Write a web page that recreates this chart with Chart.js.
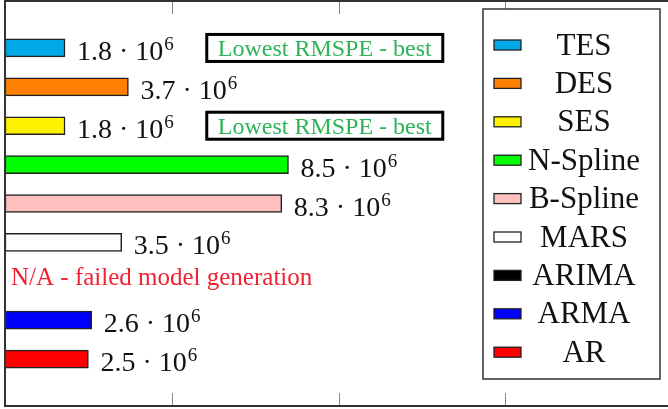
<!DOCTYPE html>
<html>
<head>
<meta charset="utf-8">
<script src="https://cdn.jsdelivr.net/npm/chart.js@4.4.1/dist/chart.umd.min.js"></script>
<style>
  html, body { margin: 0; padding: 0; background: #fff; overflow: hidden; width: 668px; height: 409px; }
  #wrap { position: relative; width: 680px; height: 409px; }
</style>
</head>
<body>
<div id="wrap"><canvas id="c" width="680" height="409"></canvas></div>
<script>
// Forecast models and their RMSPE (null = model could not be generated)
const models = ['TES', 'DES', 'SES', 'N-Spline', 'B-Spline', 'MARS', 'ARIMA', 'ARMA', 'AR'];
const rmspe = [1.8e6, 3.7e6, 1.8e6, 8.5e6, 8.3e6, 3.5e6, null, 2.6e6, 2.5e6];
const barColors = ['#00a8e8', '#ff8000', '#fff200', '#00ff00', '#ffc0c0', '#ffffff', '#000000', '#0000ff', '#ff0000'];
const xTicks = [0, 5e6, 10e6, 15e6, 20e6];
const bestNote = 'Lowest RMSPE - best';
const failNote = 'N/A - failed model generation';

const SERIF = '"Liberation Serif", "Times New Roman", serif';
const FRAME_TOP = 1, FRAME_BOTTOM = 406;

// Axis frame with inward tick marks on top and bottom edges
const framePlugin = {
  id: 'frame',
  afterDatasetsDraw(chart) {
    const ctx = chart.ctx, xs = chart.scales.x, a = chart.chartArea;
    ctx.save();
    ctx.strokeStyle = '#8a8a8a';
    ctx.lineWidth = 1;
    xTicks.forEach(t => {
      const px = Math.round(xs.getPixelForValue(t)) + 0.5;
      ctx.beginPath();
      ctx.moveTo(px, FRAME_TOP); ctx.lineTo(px, FRAME_TOP + 13);
      ctx.moveTo(px, FRAME_BOTTOM); ctx.lineTo(px, FRAME_BOTTOM - 13);
      ctx.stroke();
    });
    ctx.strokeStyle = '#333';
    ctx.lineWidth = 2;
    ctx.beginPath();
    ctx.moveTo(a.right, FRAME_TOP);
    ctx.lineTo(a.left, FRAME_TOP);
    ctx.lineTo(a.left, FRAME_BOTTOM);
    ctx.lineTo(a.right, FRAME_BOTTOM);
    ctx.stroke();
    ctx.restore();
  }
};

// Value labels, best-model notes and the failed-model note
const labelPlugin = {
  id: 'valueLabels',
  afterDatasetsDraw(chart) {
    const ctx = chart.ctx, xs = chart.scales.x, ys = chart.scales.y;
    const meta = chart.getDatasetMeta(0);
    const valid = rmspe.filter(v => v !== null);
    const best = Math.min(...valid);
    ctx.save();
    rmspe.forEach((v, i) => {
      const yc = ys.getPixelForValue(i);
      if (v === null) {
        ctx.font = '25px ' + SERIF;
        ctx.fillStyle = '#ee2233';
        ctx.textAlign = 'left';
        ctx.textBaseline = 'alphabetic';
        ctx.fillText(failNote, xs.getPixelForValue(0) + 6, yc + 4);
        return;
      }
      const el = meta.data[i];
      let x = el.x + 12;
      const base = yc + 12;
      ctx.fillStyle = '#111';
      ctx.textAlign = 'left';
      ctx.textBaseline = 'alphabetic';
      ctx.font = '28px ' + SERIF;
      const main = (v / 1e6).toFixed(1) + ' \u00b7 10';
      ctx.fillText(main, x, base);
      x += ctx.measureText(main).width + 1;
      ctx.font = '19px ' + SERIF;
      ctx.fillText(String(Math.round(Math.log10(1e6))), x, base - 10);

      if (v === best) {
        const bx = xs.getPixelForValue(6.05e6), bw = 236, bh = 27;
        ctx.lineWidth = 3;
        ctx.strokeStyle = '#000';
        ctx.fillStyle = '#fff';
        ctx.fillRect(bx, yc - bh / 2, bw, bh);
        ctx.strokeRect(bx, yc - bh / 2, bw, bh);
        ctx.font = '24px ' + SERIF;
        ctx.fillStyle = '#2db456';
        ctx.textAlign = 'center';
        ctx.fillText(bestNote, bx + bw / 2, yc + 8);
      }
    });
    ctx.restore();
  }
};

// Boxed legend inside the plot, one swatch per model
const legendPlugin = {
  id: 'boxLegend',
  afterDraw(chart) {
    const ctx = chart.ctx;
    const L = 483, T = 9, R = 660, B = 379;
    ctx.save();
    ctx.fillStyle = '#fff';
    ctx.fillRect(L, T, R - L, B - T);
    ctx.strokeStyle = '#333';
    ctx.lineWidth = 1.5;
    ctx.strokeRect(L, T, R - L, B - T);
    ctx.font = '31px ' + SERIF;
    ctx.textAlign = 'center';
    ctx.textBaseline = 'alphabetic';
    models.forEach((m, i) => {
      const y = T + 36 + i * 38.4;
      ctx.fillStyle = barColors[i];
      ctx.fillRect(494, y - 5, 27, 10);
      ctx.strokeStyle = '#222';
      ctx.lineWidth = 1.3;
      ctx.strokeRect(494, y - 5, 27, 10);
      ctx.fillStyle = '#111';
      ctx.fillText(m, 584, y + 9.5);
    });
    ctx.restore();
  }
};

new Chart(document.getElementById('c'), {
  type: 'bar',
  data: {
    labels: models,
    datasets: [{
      data: rmspe,
      backgroundColor: barColors,
      borderColor: '#222',
      borderWidth: 1.5,
      borderSkipped: false,
      barThickness: 18
    }]
  },
  options: {
    indexAxis: 'y',
    responsive: false,
    animation: false,
    devicePixelRatio: 1,
    layout: { padding: { left: 5, right: 8, top: 28.5, bottom: 30.5 } },
    scales: {
      x: { type: 'linear', min: 0, max: 20e6, display: false },
      y: { type: 'category', display: false }
    },
    plugins: { legend: { display: false }, tooltip: { enabled: false } }
  },
  plugins: [framePlugin, labelPlugin, legendPlugin]
});
</script>
</body>
</html>
